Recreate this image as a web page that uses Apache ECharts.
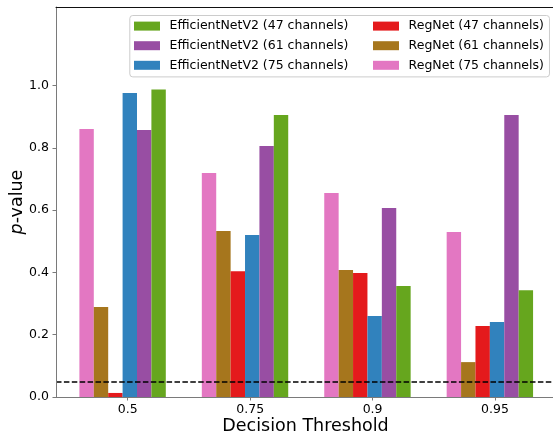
<!DOCTYPE html>
<html>
<head>
<meta charset="utf-8">
<script src="https://cdn.jsdelivr.net/npm/echarts@6/dist/echarts.min.js"></script>
<style>
html,body{margin:0;padding:0;background:#fff;}
#chart{width:553px;height:436px;}
</style>
</head>
<body>
<div id="chart"></div>
<script>
// ---- data ----
const thresholds = ['0.5', '0.75', '0.9', '0.95'];
const regnet75 = [0.860, 0.719, 0.655, 0.530];
const regnet61 = [0.289, 0.533, 0.408, 0.112];
const regnet47 = [0.013, 0.404, 0.398, 0.228];
const effnet75 = [0.976, 0.520, 0.260, 0.241];
const effnet61 = [0.857, 0.806, 0.607, 0.905];
const effnet47 = [0.987, 0.905, 0.356, 0.343];
const yTicks = [0, 0.2, 0.4, 0.6, 0.8, 1.0];
const alphaLevel = 0.05;

const namesEff = ['EfficientNetV2 (47 channels)', 'EfficientNetV2 (61 channels)', 'EfficientNetV2 (75 channels)'];
const namesReg = ['RegNet (47 channels)', 'RegNet (61 channels)', 'RegNet (75 channels)'];

// ---- styling ----
const FONT = 'DejaVu Sans';
const GROUP_SHIFT = -0.042;
const BAR_W = 14.4;
const spineGray = '#7a7a7a';

const seriesDefs = [
  { name: namesReg[2], values: regnet75, color: '#e377c2' },
  { name: namesReg[1], values: regnet61, color: '#a6761d' },
  { name: namesReg[0], values: regnet47, color: '#e41a1c' },
  { name: namesEff[2], values: effnet75, color: '#3182bd' },
  { name: namesEff[1], values: effnet61, color: '#984ea3' },
  { name: namesEff[0], values: effnet47, color: '#66a61e' }
];

const series = seriesDefs.map((d, k) => {
  const s = {
    name: d.name,
    type: 'bar',
    barWidth: BAR_W,
    barGap: '0%',
    itemStyle: { color: d.color },
    data: d.values.map((v, i) => [i + GROUP_SHIFT, v])
  };
  if (k === seriesDefs.length - 1) {
    s.markLine = {
      silent: true,
      symbol: 'none',
      label: { show: false },
      lineStyle: { color: '#000', width: 1.5, type: [5.5, 2.4] },
      data: [{ yAxis: alphaLevel }]
    };
  }
  return s;
});

const legendText = { fontFamily: FONT, fontSize: 12.5, color: '#000', lineHeight: 19.6, padding: [0, 0, 0, 4.6] };

const chart = echarts.init(document.getElementById('chart'), null, { renderer: 'canvas' });
chart.setOption({
  animation: false,
  backgroundColor: '#fff',
  textStyle: { fontFamily: FONT },
  grid: { left: 56, right: -2, top: 7, bottom: 39, containLabel: false, outerBoundsMode: 'none' },
  legend: [
    {
      data: namesEff,
      orient: 'vertical',
      left: 129.8, top: 15.5,
      padding: [0.8, 201, 1.8, 4.2],
      itemGap: 0,
      itemWidth: 26, itemHeight: 9,
      icon: 'rect',
      selectedMode: false,
      backgroundColor: 'rgba(255,255,255,0.8)',
      borderColor: '#cccccc', borderWidth: 1, borderRadius: 3,
      textStyle: legendText,
      z: 4
    },
    {
      data: namesReg,
      orient: 'vertical',
      left: 373, top: 16.3,
      padding: 0,
      itemGap: 0,
      itemWidth: 26, itemHeight: 9,
      icon: 'rect',
      selectedMode: false,
      textStyle: legendText,
      z: 5
    }
  ],
  xAxis: [
    {
      type: 'value',
      min: -0.586, max: 3.49,
      z: 10,
      splitLine: { show: false },
      axisLine: { show: true, onZero: false, lineStyle: { color: spineGray, width: 1 } },
      axisTick: { show: true, length: 3.5, lineStyle: { color: spineGray }, customValues: thresholds.map((t, i) => i) },
      axisLabel: {
        customValues: thresholds.map((t, i) => i),
        formatter: v => thresholds[Math.round(v)],
        fontFamily: FONT, fontSize: 12.5, color: '#000', margin: 6
      },
      name: 'Decision Threshold',
      nameLocation: 'middle',
      nameGap: 20,
      nameMoveOverlap: false,
      nameTextStyle: { fontFamily: FONT, fontSize: 17.5, color: '#000' }
    },
    {
      type: 'value',
      position: 'top',
      min: -0.586, max: 3.49,
      z: 10,
      splitLine: { show: false },
      axisLine: { show: true, onZero: false, lineStyle: { color: '#111', width: 1 } },
      axisTick: { show: false },
      axisLabel: { show: false }
    }
  ],
  yAxis: {
    type: 'value',
    min: 0, max: 1.252,
    z: 10,
    splitLine: { show: false },
    axisLine: { show: true, onZero: false, lineStyle: { color: spineGray, width: 1 } },
    axisTick: { show: true, length: 3.5, lineStyle: { color: spineGray }, customValues: yTicks },
    axisLabel: {
      customValues: yTicks,
      formatter: v => v.toFixed(1),
      fontFamily: FONT, fontSize: 12.5, color: '#000', margin: 7
    },
    name: '{i|p}-value',
    nameLocation: 'middle',
    nameGap: 30,
    nameMoveOverlap: false,
    nameTextStyle: {
      fontFamily: FONT, fontSize: 17.5, color: '#000',
      rich: { i: { fontFamily: FONT, fontSize: 17.5, fontStyle: 'italic', color: '#000' } }
    }
  },
  series: series
});
</script>
</body>
</html>
